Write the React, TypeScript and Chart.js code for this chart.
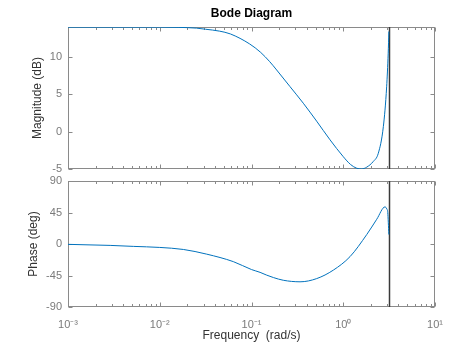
import React, { useEffect, useRef } from "react";
import { Chart, registerables } from "chart.js";
Chart.register(...registerables);

// ---- data ----
const freqMag = [0.001, 0.01, 0.01585, 0.0251, 0.0316, 0.0447, 0.0589, 0.0955, 0.126, 0.158, 0.188, 0.263, 0.367, 0.513, 0.718, 1.0, 1.202, 1.403, 1.585, 1.803, 2.123, 2.41, 2.735, 2.972, 3.09, 3.1416];
const magDb = [13.98, 13.98, 13.95, 13.85, 13.7, 13.45, 13.07, 11.73, 10.6, 9.36, 8.25, 6.02, 3.8, 1.4, -1.1, -3.35, -4.4, -4.9, -5.0, -4.75, -4.0, -2.9, 0.66, 6.0, 10.5, 13.4];

const freqPhase = [0.001, 0.00288, 0.00515, 0.01, 0.0181, 0.0325, 0.0634, 0.1, 0.124, 0.1466, 0.174, 0.222, 0.338, 0.514, 0.78, 1.186, 1.803, 2.317, 2.851, 2.985, 3.055, 3.1416];
const phaseDeg = [-0.5, -2, -3.4, -4.9, -7.8, -14.5, -25.2, -36.5, -40.5, -44.5, -48, -51.8, -54, -49.4, -37.3, -18, 13.5, 35.3, 53, 50, 45, 13.5];

const nyquistFreq = 3.1416;
const xMin = 0.001;
const xMax = 10;
const xDecades = [0.001, 0.01, 0.1, 1, 10];
const xTickLabels = ["10\u207B\u00B3", "10\u207B\u00B2", "10\u207B\u00B9", "10\u2070", "10\u00B9"];
const magTicks = [-5, 0, 5, 10];
const magRange = [-5, 14];
const phaseTicks = [-90, -45, 0, 45, 90];
const phaseRange = [-90, 90];

const FONT = "'Liberation Sans', Arial, Helvetica, sans-serif";
const LINE = "#0072BD";
const FRAME = "#8a8a8a";
const TICKTXT = "#7a7a7a";
const TITLETXT = "#333333";

function zeroPad(s: any) {
  s.paddingTop = 0;
  s.paddingBottom = 0;
  s.paddingLeft = 0;
  s.paddingRight = 0;
}

function framePlugin(yTicks: number[]) {
  return {
    id: "frame",
    beforeDatasetsDraw(chart: any) {
      const { ctx, chartArea: a, scales } = chart;
      const xs = scales.x;
      const ys = scales.y;
      const L = Math.round(a.left) + 0.5;
      const R = Math.round(a.right) - 0.5;
      const T = Math.round(a.top) + 0.5;
      const B = Math.round(a.bottom) - 0.5;
      ctx.save();
      ctx.strokeStyle = FRAME;
      ctx.lineWidth = 1;
      ctx.strokeRect(L, T, R - L, B - T);
      ctx.beginPath();
      for (let k = 0; k < xDecades.length; k++) {
        const d = xDecades[k];
        for (let m = 1; m <= 9; m++) {
          const v = d * m;
          if (v > xMax * 1.0001) break;
          const px = Math.round(xs.getPixelForValue(v)) + 0.5;
          const len = m === 1 ? 4 : 2.5;
          ctx.moveTo(px, B);
          ctx.lineTo(px, B - len);
          ctx.moveTo(px, T);
          ctx.lineTo(px, T + len);
        }
      }
      for (const v of yTicks) {
        const py = Math.round(ys.getPixelForValue(v)) + 0.5;
        ctx.moveTo(L, py);
        ctx.lineTo(L + 4, py);
        ctx.moveTo(R, py);
        ctx.lineTo(R - 4, py);
      }
      ctx.stroke();
      // Nyquist frequency line
      const nx = Math.round(xs.getPixelForValue(nyquistFreq)) + 0.5;
      ctx.strokeStyle = "#3a3a3a";
      ctx.lineWidth = 1.5;
      ctx.beginPath();
      ctx.moveTo(nx, a.top);
      ctx.lineTo(nx, a.bottom);
      ctx.stroke();
      ctx.restore();
    },
  };
}

function makeConfig(opts: {
  freq: number[];
  vals: number[];
  yTicks: number[];
  yRange: number[];
  yTitle: string;
  yTitlePad: number;
  bottom: boolean;
}): any {
  const { freq, vals, yTicks, yRange, yTitle, yTitlePad, bottom } = opts;
  return {
    type: "line",
    data: {
      datasets: [
        {
          data: freq.map((f, i) => ({ x: f, y: vals[i] })),
          borderColor: LINE,
          borderWidth: 1,
          pointRadius: 0,
          fill: false,
          cubicInterpolationMode: "monotone",
        },
      ],
    },
    options: {
      responsive: false,
      maintainAspectRatio: false,
      animation: false,
      events: [],
      layout: { padding: { left: 0, right: 41, top: bottom ? 7 : 0, bottom: 0 } },
      plugins: {
        legend: { display: false },
        tooltip: { enabled: false },
        title: bottom
          ? { display: false }
          : {
              display: true,
              fullSize: false,
              text: "Bode Diagram",
              color: "#000",
              font: { family: FONT, size: 12, weight: "bold" },
              padding: { top: 6, bottom: 6.6 },
            },
      },
      scales: {
        x: {
          type: "logarithmic",
          min: xMin,
          max: xMax,
          grid: { display: false, drawTicks: false },
          border: { display: false },
          afterBuildTicks: (s: any) => {
            s.ticks = xDecades.map((v) => ({ value: v, major: true }));
          },
          afterFit: (s: any) => {
            s.height = bottom ? 42 : 5;
            zeroPad(s);
          },
          ticks: {
            display: bottom,
            autoSkip: false,
            maxRotation: 0,
            padding: 11,
            color: TICKTXT,
            font: { family: FONT, size: 11 },
            callback: (v: any) => {
              const i = xDecades.findIndex((d) => Math.abs(d - v) / d < 1e-6);
              return i >= 0 ? xTickLabels[i] : "";
            },
          },
          title: {
            display: bottom,
            text: "Frequency  (rad/s)",
            color: TITLETXT,
            font: { family: FONT, size: 12 },
            padding: { top: 0, bottom: 5.8 },
          },
        },
        y: {
          type: "linear",
          min: yRange[0],
          max: yRange[1],
          grid: { display: false, drawTicks: false },
          border: { display: false },
          afterBuildTicks: (s: any) => {
            s.ticks = yTicks.map((v) => ({ value: v }));
          },
          afterFit: (s: any) => {
            s.width = 68;
            zeroPad(s);
          },
          ticks: {
            padding: 6,
            color: TICKTXT,
            font: { family: FONT, size: 11 },
            callback: (v: any) => String(v),
          },
          title: {
            display: true,
            text: yTitle,
            color: TITLETXT,
            font: { family: FONT, size: 12 },
            padding: { top: yTitlePad, bottom: 0 },
          },
        },
      },
    },
    plugins: [framePlugin(yTicks)],
  };
}

export default function App() {
  const magRef = useRef<HTMLCanvasElement | null>(null);
  const phRef = useRef<HTMLCanvasElement | null>(null);

  useEffect(() => {
    Chart.defaults.font.family = FONT;
    const c1 = new Chart(
      magRef.current as HTMLCanvasElement,
      makeConfig({
        freq: freqMag,
        vals: magDb,
        yTicks: magTicks,
        yRange: magRange,
        yTitle: "Magnitude (dB)",
        yTitlePad: 30.3,
        bottom: false,
      })
    );
    const c2 = new Chart(
      phRef.current as HTMLCanvasElement,
      makeConfig({
        freq: freqPhase,
        vals: phaseDeg,
        yTicks: phaseTicks,
        yRange: phaseRange,
        yTitle: "Phase (deg)",
        yTitlePad: 26.8,
        bottom: true,
      })
    );
    return () => {
      c1.destroy();
      c2.destroy();
    };
  }, []);

  return (
    <div style={{ position: "absolute", left: 0, top: 0, width: 476, height: 349, background: "#fff" }}>
      <canvas ref={magRef} width={476} height={174} style={{ position: "absolute", left: 0, top: 0 }} />
      <canvas ref={phRef} width={476} height={175} style={{ position: "absolute", left: 0, top: 174 }} />
    </div>
  );
}
